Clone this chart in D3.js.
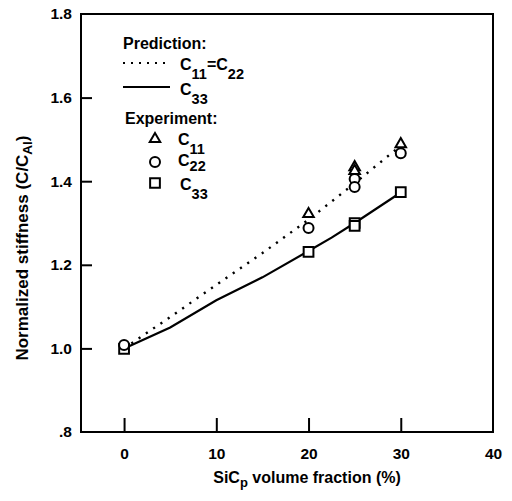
<!DOCTYPE html>
<html>
<head>
<meta charset="utf-8">
<script src="https://cdn.jsdelivr.net/npm/d3@7"></script>
<style>
  html, body { margin: 0; padding: 0; background: #fff; }
  svg text { font-family: "Liberation Sans", Arial, Helvetica, sans-serif; fill: #000; font-weight: bold; }
</style>
</head>
<body>
<svg id="chart" width="512" height="501"></svg>
<script>
// ---- data ----
const xTicks = [0, 10, 20, 30, 40];
const yTicks = [0.8, 1.0, 1.2, 1.4, 1.6, 1.8];
const yTickLabels = [".8", "1.0", "1.2", "1.4", "1.6", "1.8"];

// prediction curves [vol. fraction %, C/C_Al]
const predC11 = [[0, 1.0], [5, 1.075], [10, 1.152], [15, 1.228], [20, 1.308], [25, 1.395], [30, 1.485]];
const predC33 = [[0, 1.0], [5, 1.05], [10, 1.115], [15, 1.17], [20, 1.233], [22.5, 1.265], [25, 1.30], [30, 1.373]];

// experiment points
const expC11 = [[20, 1.324], [25, 1.436], [25, 1.427], [30, 1.491]];
const expC22 = [[0, 1.008], [20, 1.288], [25, 1.405], [25, 1.386], [30, 1.467]];
const expC33 = [[0, 0.999], [20, 1.231], [25, 1.30], [25, 1.293], [30, 1.374]];

// ---- layout ----
const svg = d3.select("#chart");
const L = 81, R = 493, T = 14, B = 432;
const x = d3.scaleLinear().domain([-4.67, 40]).range([L, R]);
const y = d3.scaleLinear().domain([0.8, 1.8]).range([B, T]);

// frame
svg.append("rect").attr("x", L).attr("y", T).attr("width", R - L).attr("height", B - T)
  .attr("fill", "none").attr("stroke", "#000").attr("stroke-width", 2);

// x ticks (inward, upward) and labels
const xAxis = d3.axisBottom(x).tickValues(xTicks).tickSizeInner(-14).tickSizeOuter(0).tickPadding(18).tickFormat(d3.format("d"));
const gx = svg.append("g").attr("transform", `translate(0,${B})`).call(xAxis);
gx.select(".domain").remove();
gx.selectAll(".tick line").attr("stroke", "#000").attr("stroke-width", 2)
  .filter(d => d === 40).remove();
gx.selectAll(".tick text").attr("font-size", 15.5).attr("dy", "0.71em").attr("y", 15.5);

// y ticks (inward) and labels
const yAxis = d3.axisLeft(y).tickValues(yTicks).tickSizeInner(-11).tickSizeOuter(0).tickPadding(9)
  .tickFormat((d, i) => yTickLabels[i]);
const gy = svg.append("g").attr("transform", `translate(${L},0)`).call(yAxis);
gy.select(".domain").remove();
gy.selectAll(".tick line").attr("stroke", "#000").attr("stroke-width", 2)
  .filter(d => d === 0.8 || d === 1.8).remove();
gy.selectAll(".tick text").attr("font-size", 15.5).attr("x", -9);

// lines
const line = d3.line().x(d => x(d[0])).y(d => y(d[1])).curve(d3.curveLinear);
svg.append("path").datum(predC11).attr("d", line).attr("fill", "none")
  .attr("stroke", "#000").attr("stroke-width", 2.4).attr("stroke-dasharray", "2.2 6.6");
svg.append("path").datum(predC33).attr("d", line).attr("fill", "none")
  .attr("stroke", "#000").attr("stroke-width", 2.2);

// markers
const tri = d3.symbol().type(d3.symbolTriangle).size(48);
const sq = d3.symbol().type(d3.symbolSquare).size(95);
function drawTri(sel, data) {
  sel.selectAll(null).data(data).enter().append("path").attr("d", tri)
    .attr("transform", d => `translate(${x(d[0])},${y(d[1]) + 1})`)
    .attr("fill", "#fff").attr("stroke", "#000").attr("stroke-width", 2);
}
function drawCirc(sel, data) {
  sel.selectAll(null).data(data).enter().append("circle")
    .attr("cx", d => x(d[0])).attr("cy", d => y(d[1])).attr("r", 5)
    .attr("fill", "#fff").attr("stroke", "#000").attr("stroke-width", 2);
}
function drawSq(sel, data) {
  sel.selectAll(null).data(data).enter().append("path").attr("d", sq)
    .attr("transform", d => `translate(${x(d[0])},${y(d[1])})`)
    .attr("fill", "#fff").attr("stroke", "#000").attr("stroke-width", 2);
}
const gm = svg.append("g");
drawSq(gm.append("g"), expC33);
drawCirc(gm.append("g"), expC22);
drawTri(gm.append("g"), expC11);

// legend
const lg = svg.append("g");
function label(xp, yp, main, sub, rest, sub2, size) {
  const t = lg.append("text").attr("x", xp).attr("y", yp).attr("font-size", size || 16);
  t.append("tspan").text(main);
  if (sub) t.append("tspan").attr("dy", 9).attr("font-size", 14.5).text(sub);
  if (rest) t.append("tspan").attr("dy", -9).text(rest);
  if (sub2) t.append("tspan").attr("dy", 9).attr("font-size", 14.5).text(sub2);
  return t;
}
label(123, 49, "Prediction:");
lg.append("line").attr("x1", 123).attr("x2", 170).attr("y1", 63).attr("y2", 63)
  .attr("stroke", "#000").attr("stroke-width", 2).attr("stroke-dasharray", "2 6");
label(180, 70, "C", "11", "=C", "22");
lg.append("line").attr("x1", 123).attr("x2", 170).attr("y1", 87).attr("y2", 87)
  .attr("stroke", "#000").attr("stroke-width", 2);
label(180, 95, "C", "33");
label(125, 124, "Experiment:");
lg.append("path").attr("d", tri).attr("transform", "translate(155,139)")
  .attr("fill", "#fff").attr("stroke", "#000").attr("stroke-width", 2);
label(178, 145, "C", "11");
lg.append("circle").attr("cx", 155).attr("cy", 162).attr("r", 5)
  .attr("fill", "#fff").attr("stroke", "#000").attr("stroke-width", 2);
label(178, 166, "C", "22").select("tspan:nth-child(2)").attr("dy", 5);
lg.append("path").attr("d", sq).attr("transform", "translate(155,183)")
  .attr("fill", "#fff").attr("stroke", "#000").attr("stroke-width", 2);
label(180, 190, "C", "33");

// axis titles
const xt = svg.append("text").attr("x", 307).attr("y", 483).attr("text-anchor", "middle").attr("font-size", 16);
xt.append("tspan").text("SiC");
xt.append("tspan").attr("dy", 4).attr("font-size", 13).text("p");
xt.append("tspan").attr("dy", -4).text(" volume fraction (%)");

const yt = svg.append("text").attr("transform", "translate(28,248) rotate(-90)").attr("text-anchor", "middle").attr("font-size", 17);
yt.append("tspan").text("Normalized stiffness (C/C");
yt.append("tspan").attr("dy", 4).attr("font-size", 13.5).text("Al");
yt.append("tspan").attr("dy", -4).text(")");
</script>
</body>
</html>
